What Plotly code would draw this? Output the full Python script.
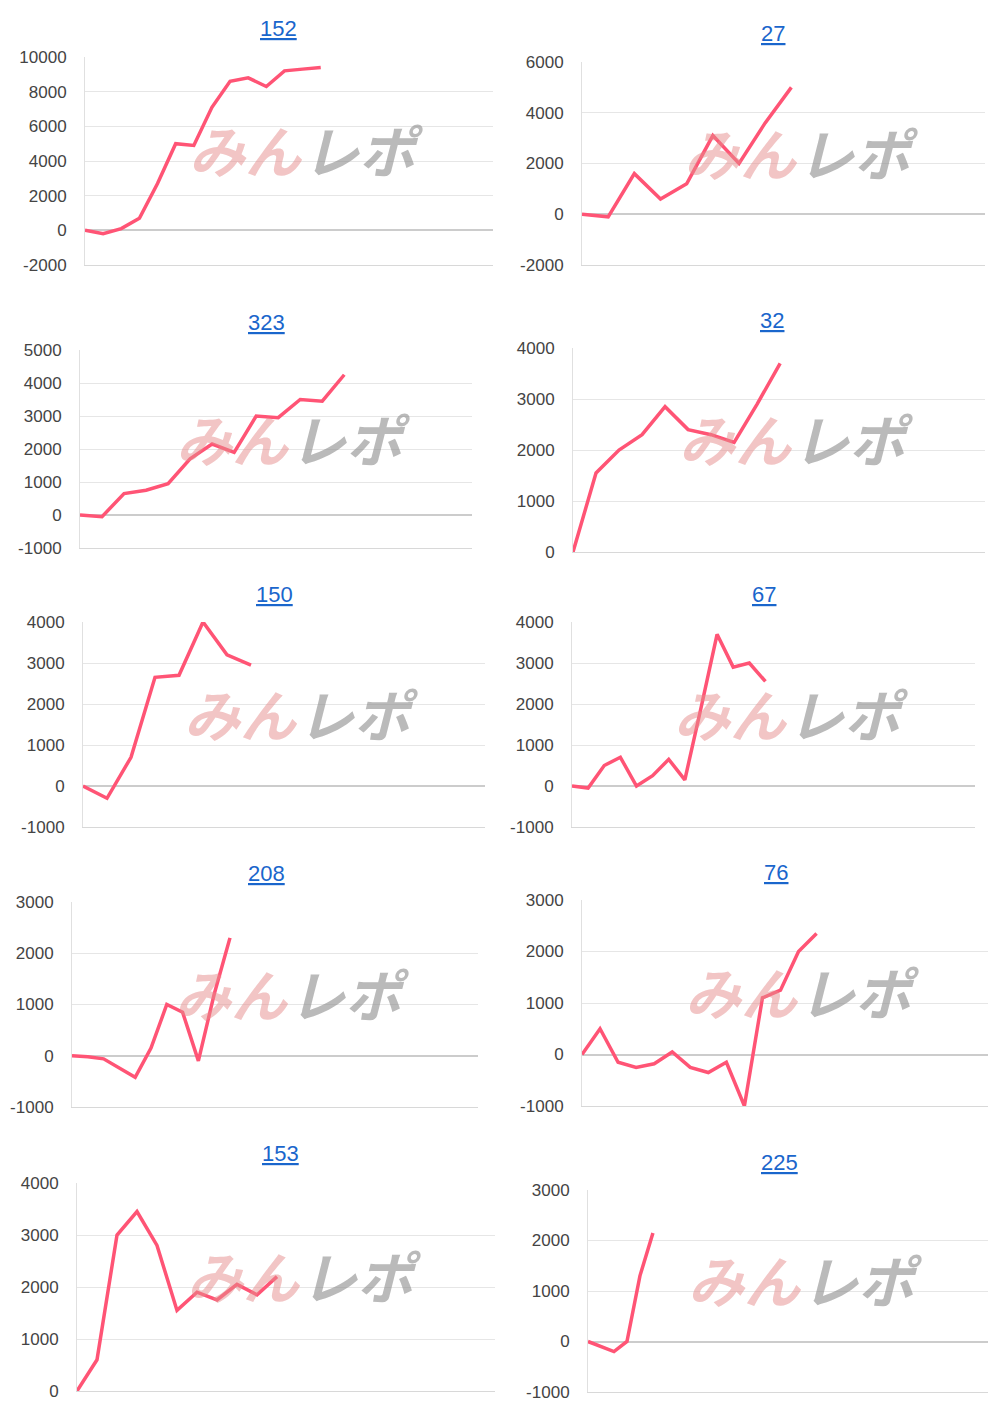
import plotly.graph_objects as go

W, H = 1000, 1414
OFF = 8  # page body margin

titles = ["152", "27", "323", "32", "150", "67", "208", "76", "153", "225"]
title_x = [278, 773, 266, 772, 274, 764, 266, 776, 280, 779]

vals_152 = [0, -200, 100, 700, 2700, 5000, 4900, 7100, 8600, 8800, 8300, 9200, 9300, 9400]
vals_27 = [0, -100, 1600, 600, 1200, 3100, 2000, 3600, 5000]
vals_323 = [0, -50, 650, 750, 950, 1700, 2150, 1900, 3000, 2950, 3500, 3450, 4250]
vals_32 = [0, 1550, 2000, 2300, 2850, 2400, 2300, 2150, 2900, 3700]
vals_150 = [0, -300, 700, 2650, 2700, 4000, 3200, 2950]
vals_67 = [0, -50, 500, 700, 0, 250, 650, 150, 1900, 3700, 2900, 3000, 2550]
vals_208 = [0, -20, -60, -250, -420, 150, 1000, 850, -100, 1200, 2300]
vals_76 = [0, 500, -150, -250, -180, 50, -250, -350, -150, -1000, 1100, 1250, 2000, 2350]
vals_153 = [0, 600, 3000, 3450, 2800, 1550, 1900, 1750, 2050, 1850, 2200]
vals_225 = [0, -100, -200, 0, 1300, 2150]

series = [vals_152, vals_27, vals_323, vals_32, vals_150, vals_67, vals_208, vals_76, vals_153, vals_225]

# x slots on axis, y range/step
x_slots = [22.5, 15.4, 17.8, 17.9, 16.75, 25, 25.7, 22.5, 20.9, 30.8]
y_ranges = [(-2000, 10000, 2000), (-2000, 6000, 2000), (-1000, 5000, 1000), (0, 4000, 1000),
            (-1000, 4000, 1000), (-1000, 4000, 1000), (-1000, 3000, 1000), (-1000, 3000, 1000),
            (0, 4000, 1000), (-1000, 3000, 1000)]

# plot boxes in pixels: x0, x1, ytop, ybottom, title y
boxes = [(85, 493, 57, 265, 28), (582, 985, 62, 265, 34), (80, 472, 350, 548, 322), (573, 985, 348, 552, 320),
         (83, 485, 622, 827, 595), (572, 975, 622, 827, 594), (72, 478, 902, 1107, 873), (582, 988, 900, 1106, 872),
         (77, 495, 1183, 1391, 1153), (588, 988, 1190, 1392, 1162)]


def px(x):
    return (x - OFF) / W


def py(y):
    return 1 - (y - OFF) / H


fig = go.Figure()
annotations = []
for i, (vals, box) in enumerate(zip(series, boxes)):
    n = "" if i == 0 else str(i + 1)
    x0, x1, yt, yb, ty = box
    lo, hi, step = y_ranges[i]
    tv = list(range(lo, hi + 1, step))
    fig.add_trace(go.Scatter(x=list(range(len(vals))), y=vals, mode="lines",
                             line=dict(color="#ff5475", width=3.5), xaxis="x" + n, yaxis="y" + n,
                             showlegend=False, hoverinfo="skip"))
    fig.update_layout(**{
        "xaxis" + n: dict(domain=[px(x0), px(x1)], range=[0, x_slots[i]], showticklabels=False,
                          showgrid=False, zeroline=False, showline=True, linecolor="#d8d8d8",
                          anchor="y" + n, automargin=False),
        "yaxis" + n: dict(domain=[py(yb), py(yt)], range=[lo, hi], tickvals=tv,
                          ticktext=[str(v) for v in tv], automargin=False,
                          gridcolor="#e6e6e6", zeroline=True, zerolinecolor="#cccccc", zerolinewidth=2,
                          showline=True, linecolor="#e0e0e0", ticks="", ticklabelstandoff=14,
                          tickfont=dict(size=17, color="#444", family="Liberation Sans"), anchor="x" + n),
    })
    annotations.append(dict(text="<u>" + titles[i] + "</u>", x=px(title_x[i]), y=py(ty),
                            xref="paper", yref="paper", showarrow=False, xanchor="center", yanchor="middle",
                            font=dict(size=22, color="#1a66cc", family="Liberation Sans")))
    cx = x0 + 0.53 * (x1 - x0)
    cy = yt + 0.44 * (yb - yt)
    annotations.append(dict(text="<b><i>みん</i></b>", x=px(cx + 4), y=py(cy), xref="paper", yref="paper",
                            xanchor="right", yanchor="middle", showarrow=False,
                            font=dict(size=56, color="rgba(230,140,140,0.5)")))
    annotations.append(dict(text="<b><i>レポ</i></b>", x=px(cx), y=py(cy), xref="paper", yref="paper",
                            xanchor="left", yanchor="middle", showarrow=False,
                            font=dict(size=56, color="rgba(140,140,140,0.6)")))

fig.update_layout(width=W, height=H, margin=dict(l=0, r=0, t=0, b=0), plot_bgcolor="white",
                  paper_bgcolor="white", font=dict(family="Noto Sans CJK JP, Noto Sans"),
                  annotations=annotations)
fig.write_html("out.html")
